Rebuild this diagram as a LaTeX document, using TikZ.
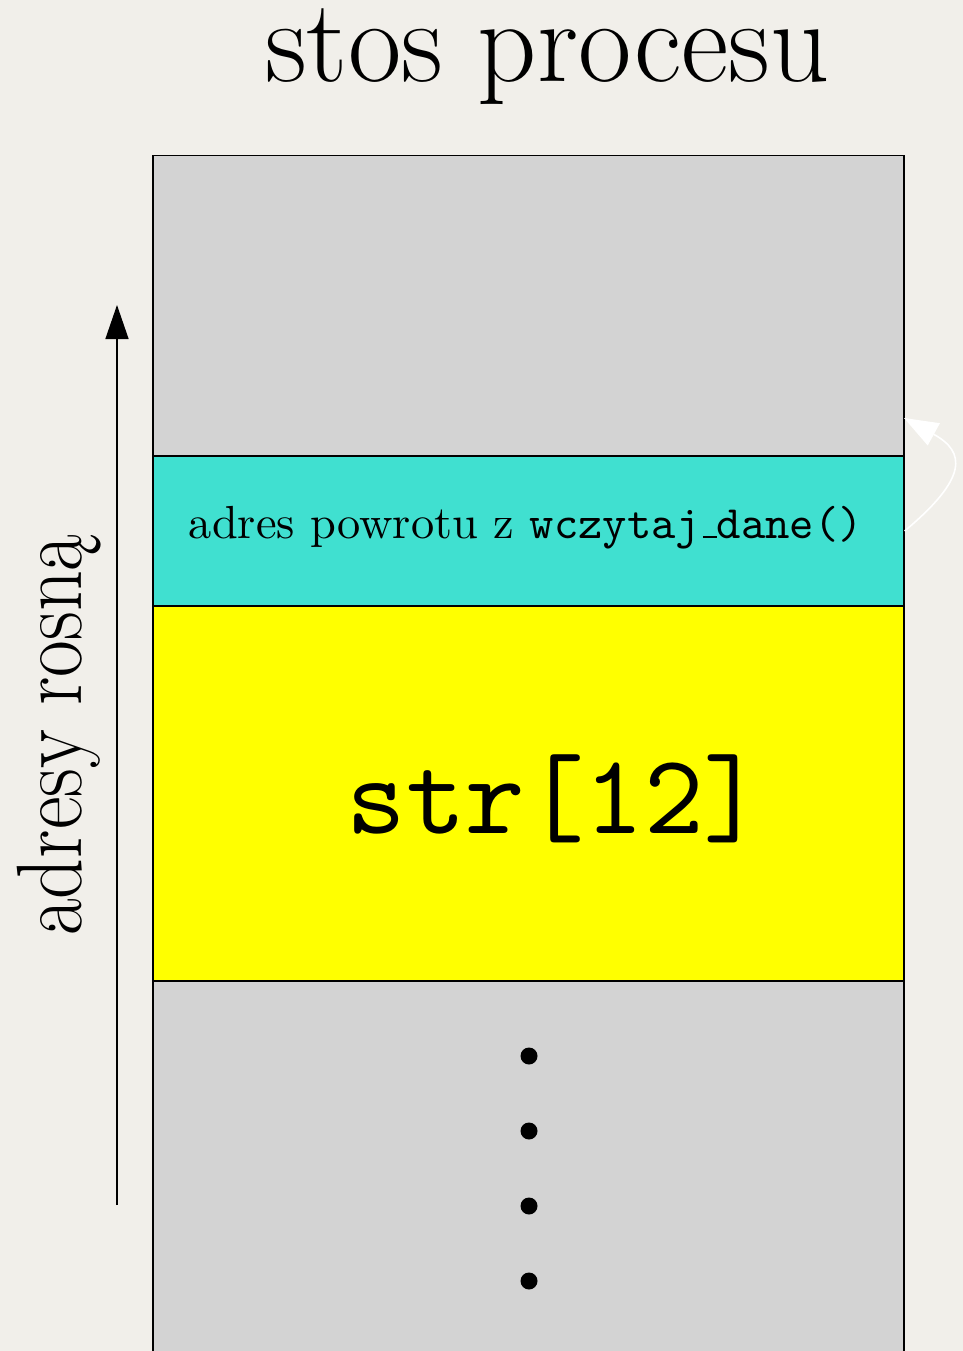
\documentclass[tikz,border=0pt]{standalone}
\usetikzlibrary{arrows.meta}
\definecolor{paper}{HTML}{F1EFEA}
\definecolor{slotgray}{HTML}{D3D3D3}
\definecolor{retcyan}{HTML}{40E0D0}
\definecolor{bufyellow}{HTML}{FFFF00}
% thin underscore as in classic TeX text fonts
\newcommand{\thinscore}{\kern.06em\rule{.3em}{.45pt}}
\tikzset{
  slot/.style={draw=black, line width=1.2pt, minimum width=751pt, inner sep=0pt},
  label/.style={inner sep=0pt, anchor=base},
  stackdot/.style={circle, fill=black, inner sep=0pt, minimum size=17pt},
  growarrow/.style={line width=1.4pt, -{Triangle[length=34pt, width=23pt]}},
  retarrow/.style={white, line width=1.6pt, -{Triangle[length=34pt, width=25pt]}},
}
\begin{document}
\begin{tikzpicture}[x=1pt, y=-1pt]
  \useasboundingbox (0,0) rectangle (963,1351);
  \clip (0,0) rectangle (963,1351);
  \fill[paper] (0,0) rectangle (963,1351);

  % title
  \node[label, yscale=1.02, font=\fontsize{116}{116}\selectfont] (title) at (547.5,82) {stos procesu};

  % stack slots, top to bottom
  \node[slot, fill=slotgray, minimum height=300pt] (free) at (528.5,305.5) {};
  \node[slot, fill=retcyan, minimum height=150pt] (ret) at (528.5,531) {};
  \node[slot, fill=bufyellow, minimum height=375pt] (buf) at (528.5,793.5) {};
  \node[slot, fill=slotgray, minimum height=450pt] (older) at (528.5,1206) {};

  % slot contents
  \node[label, scale=4.64] (retlabel) at (526,538)
    {adres powrotu z \texttt{wczytaj\thinscore dane()}};
  \node[label, scale=11.35, font=\ttfamily] (buflabel) at (555,833) {str[12]};
  \node[stackdot] (d1) at (529,1056) {};
  \node[stackdot] (d2) at (529,1131) {};
  \node[stackdot] (d3) at (529,1206) {};
  \node[stackdot] (d4) at (529,1281) {};

  % growth direction of addresses
  \coordinate (lowaddr) at (117,1205);
  \coordinate (highaddr) at (117,305);
  \draw[growarrow] (lowaddr) -- (highaddr);
  \node[label, rotate=90, yscale=1.16, font=\fontsize{80}{80}\selectfont] (dirlabel) at (81,735) {adresy rosną};

  % return jump
  \coordinate (retto) at (904,418);
  \draw[retarrow] (ret.east) .. controls (968,478) and (966,452) .. (retto);
\end{tikzpicture}
\end{document}
